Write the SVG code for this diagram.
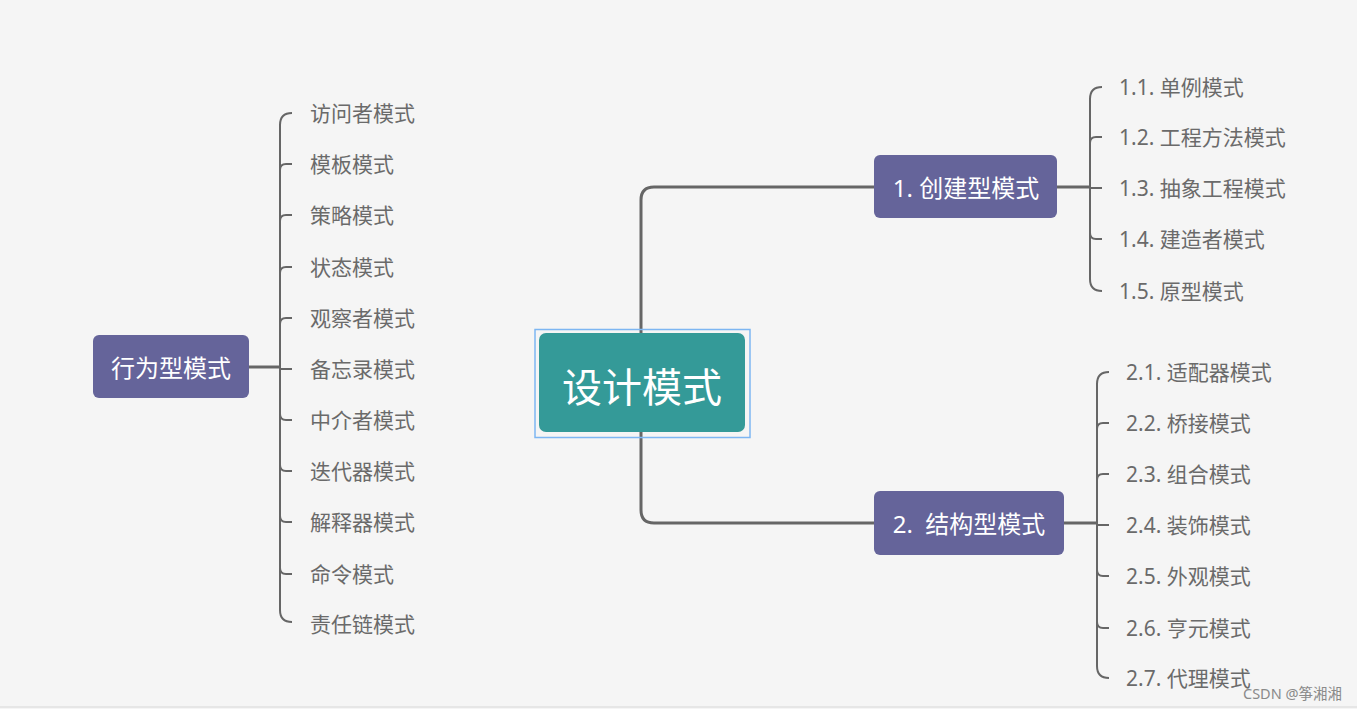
<svg xmlns="http://www.w3.org/2000/svg" width="1357" height="709" viewBox="0 0 1357 709">
<style>
text{font-family:"Noto Sans","Noto Sans CJK SC",sans-serif;dominant-baseline:central}
.leaf{font-size:21px;fill:#6a6a6a}
.main{fill:#65649a}
.mt{font-size:24px;fill:#ffffff;text-anchor:middle}
.trunk{fill:none;stroke:#666666;stroke-width:3}
.br{fill:none;stroke:#666666;stroke-width:2}
</style>
<rect width="1357" height="709" fill="#f5f5f5"/>
<line x1="0" y1="707" x2="1357" y2="707" stroke="#e6e6e6" stroke-width="2"/>
<g id="connectors">
<path class="trunk" d="M641,333 V200 Q641,187 654,187 H874"/>
<path class="trunk" d="M641,432 V510 Q641,523 654,523 H874"/>
<path class="trunk" d="M249,367 H280"/>
<path class="trunk" d="M1057,187 H1090"/>
<path class="trunk" d="M1064,523 H1097"/>
<path class="br" d="M292,113 Q280,113 280,125 V610 Q280,622 292,622"/>
<path class="br" d="M280,170 Q280,164 286,164 H292 M280,221 Q280,215 286,215 H292 M280,273 Q280,267 286,267 H292 M280,324 Q280,318 286,318 H292 M280,369 H292 M280,414 Q280,420 286,420 H292 M280,465 Q280,471 286,471 H292 M280,516 Q280,522 286,522 H292 M280,568 Q280,574 286,574 H292"/>
<path class="br" d="M1102,87 Q1090,87 1090,99 V279 Q1090,291 1102,291"/>
<path class="br" d="M1090,143 Q1090,137 1096,137 H1102 M1090,188 H1102 M1090,233 Q1090,239 1096,239 H1102"/>
<path class="br" d="M1109,372 Q1097,372 1097,384 V666 Q1097,678 1109,678"/>
<path class="br" d="M1097,429 Q1097,423 1103,423 H1109 M1097,480 Q1097,474 1103,474 H1109 M1097,525 H1109 M1097,570 Q1097,576 1103,576 H1109 M1097,622 Q1097,628 1103,628 H1109"/>
</g>
<g id="center">
<rect x="535" y="329.5" width="215" height="108" fill="none" stroke="#7db6f2" stroke-width="1.5"/>
<rect x="539" y="333" width="206" height="99" rx="7" fill="#349a98"/>
<text x="642" y="386" font-size="40" fill="#ffffff" text-anchor="middle">设计模式</text>
</g>
<g id="n1">
<rect class="main" x="874" y="155" width="183" height="63" rx="6"/>
<text class="mt" x="966" y="187">1. 创建型模式</text>
</g>
<g id="n2">
<rect class="main" x="874" y="491" width="190" height="64" rx="6"/>
<text class="mt" x="969" y="523" xml:space="preserve">2.  结构型模式</text>
</g>
<g id="n3">
<rect class="main" x="93" y="335" width="156" height="63" rx="6"/>
<text class="mt" x="171" y="367">行为型模式</text>
</g>
<g id="c1">
<text class="leaf" x="1119" y="87">1.1. 单例模式</text>
<text class="leaf" x="1119" y="137">1.2. 工程方法模式</text>
<text class="leaf" x="1119" y="188">1.3. 抽象工程模式</text>
<text class="leaf" x="1119" y="239">1.4. 建造者模式</text>
<text class="leaf" x="1119" y="291">1.5. 原型模式</text>
</g>
<g id="c2">
<text class="leaf" x="1126" y="372">2.1. 适配器模式</text>
<text class="leaf" x="1126" y="423">2.2. 桥接模式</text>
<text class="leaf" x="1126" y="474">2.3. 组合模式</text>
<text class="leaf" x="1126" y="525">2.4. 装饰模式</text>
<text class="leaf" x="1126" y="576">2.5. 外观模式</text>
<text class="leaf" x="1126" y="628">2.6. 亨元模式</text>
<text class="leaf" x="1126" y="678">2.7. 代理模式</text>
</g>
<g id="c3">
<text class="leaf" x="310" y="113">访问者模式</text>
<text class="leaf" x="310" y="164">模板模式</text>
<text class="leaf" x="310" y="215">策略模式</text>
<text class="leaf" x="310" y="267">状态模式</text>
<text class="leaf" x="310" y="318">观察者模式</text>
<text class="leaf" x="310" y="369">备忘录模式</text>
<text class="leaf" x="310" y="420">中介者模式</text>
<text class="leaf" x="310" y="471">迭代器模式</text>
<text class="leaf" x="310" y="522">解释器模式</text>
<text class="leaf" x="310" y="574">命令模式</text>
<text class="leaf" x="310" y="624">责任链模式</text>
</g>
<text x="1243" y="693" font-size="14.5" fill="#8a8a8a" font-family="Liberation Sans, Noto Sans CJK SC, sans-serif">CSDN @筝湘湘</text>
</svg>
